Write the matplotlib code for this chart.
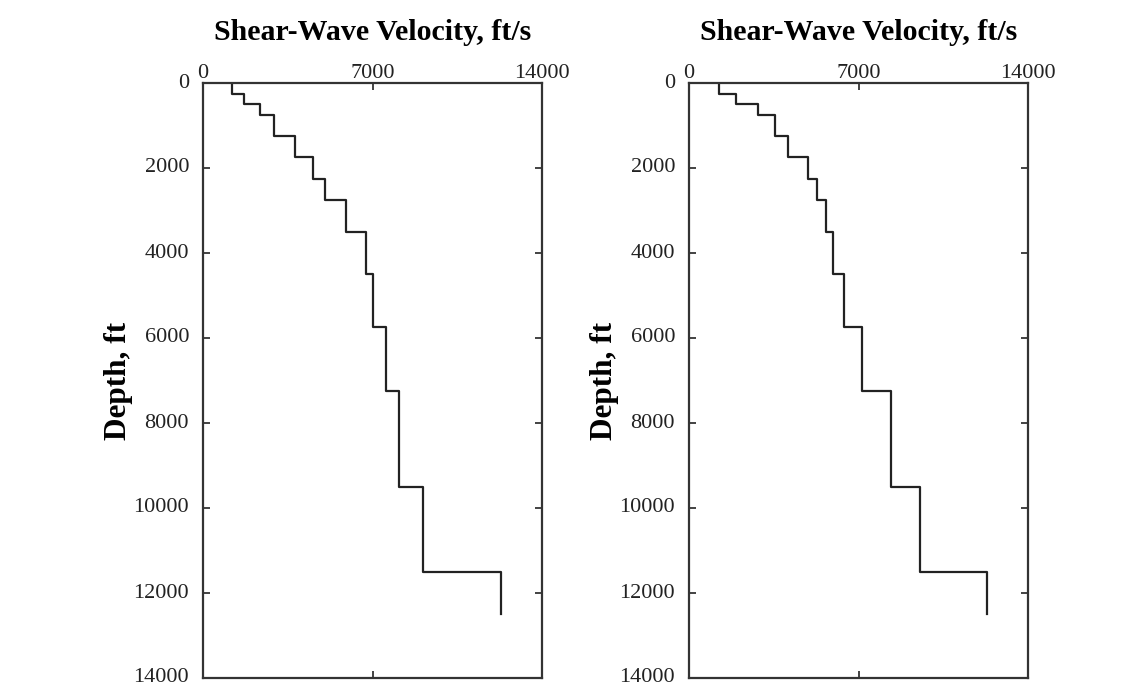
# Perfiles de velocidad de onda de corte (dos columnas)
import numpy as np
import matplotlib.pyplot as plt

plt.rcParams['font.family'] = ['Liberation Serif', 'DejaVu Serif']

# Limites de capas (ft) y velocidades por capa (ft/s)
depth_left = [0, 250, 500, 750, 1250, 1750, 2250, 2750, 3500, 4500, 5750, 7250, 9500, 11500, 12500]
vs_left = [1200, 1700, 2350, 2950, 3800, 4550, 5050, 5900, 6750, 7000, 7550, 8100, 9100, 12300]

depth_right = [0, 250, 500, 750, 1250, 1750, 2250, 2750, 3500, 4500, 5750, 7250, 9500, 11500, 12500]
vs_right = [1240, 1950, 2850, 3550, 4100, 4900, 5270, 5650, 5960, 6420, 7150, 8350, 9550, 12300]

xticks = [0, 7000, 14000]
yticks = [0, 2000, 4000, 6000, 8000, 10000, 12000, 14000]


def perfil(depths, vs):
    # convierte capas en una linea escalonada
    x, y = [], []
    for i, v in enumerate(vs):
        x += [v, v]
        y += [depths[i], depths[i + 1]]
    return x, y


fig = plt.figure(figsize=(11.43, 6.87), dpi=100)
ax1 = fig.add_axes([203 / 1143, 9 / 687, 339 / 1143, 595 / 687])
ax2 = fig.add_axes([689 / 1143, 9 / 687, 339 / 1143, 595 / 687])

for ax, d, v in [(ax1, depth_left, vs_left), (ax2, depth_right, vs_right)]:
    x, y = perfil(d, v)
    ax.plot(x, y, color='#222222', linewidth=1.6)
    ax.set_xlim(0, 14000)
    ax.set_ylim(14000, 0)
    ax.set_xticks(xticks)
    ax.set_yticks(yticks)
    ax.xaxis.tick_top()
    ax.tick_params(axis='both', direction='in', length=5, width=1.2,
                   labelsize=16, top=True, bottom=True, left=True, right=True,
                   labeltop=True, labelbottom=False, colors='#222222')
    ax.tick_params(axis='x', pad=0)
    ax.tick_params(axis='y', pad=10)
    for lbl in ax.get_yticklabels():
        lbl.set_verticalalignment('center')
    for s in ax.spines.values():
        s.set_linewidth(1.6)
        s.set_color('#333333')
    ax.set_title('Shear-Wave Velocity, ft/s', fontsize=21.5, fontweight='bold', pad=31)
    ax.set_ylabel('Depth, ft', fontsize=22.5, fontweight='bold', labelpad=0)

fig.savefig('out.png', dpi=100)
